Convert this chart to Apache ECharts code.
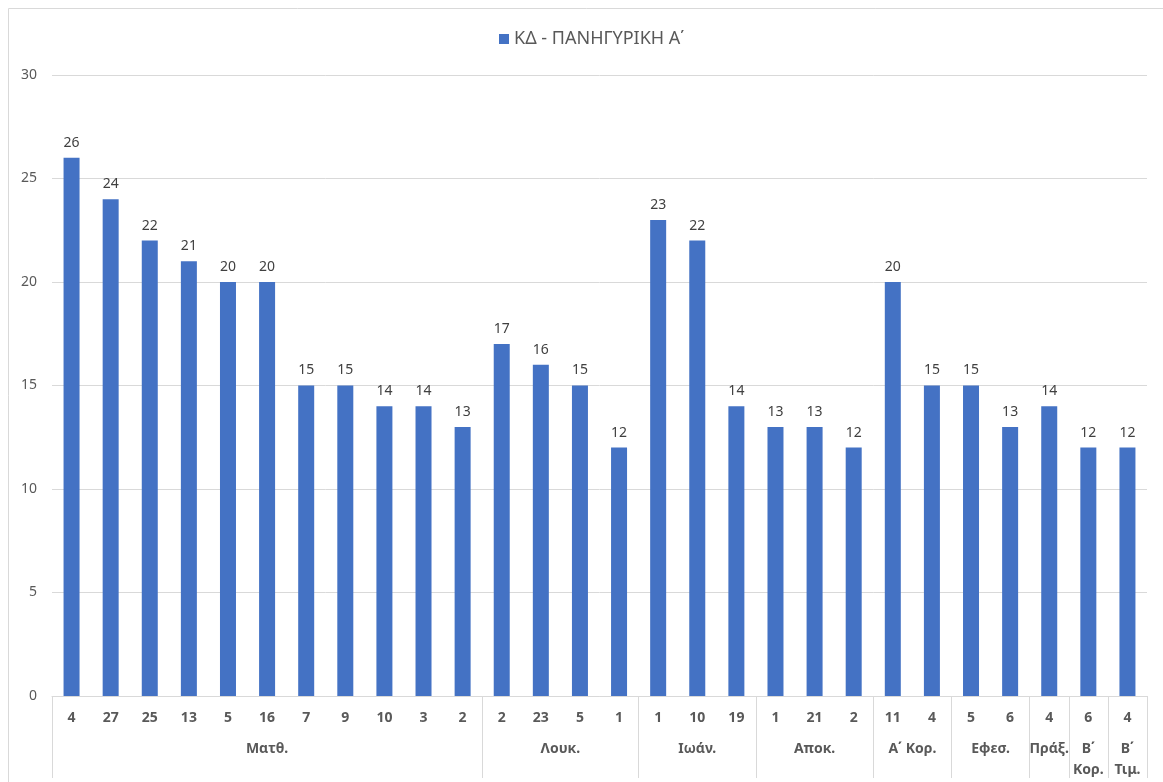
<!DOCTYPE html>
<html>
<head>
<meta charset="utf-8">
<script src="https://cdn.jsdelivr.net/npm/echarts@6/dist/echarts.min.js"></script>
<style>
html,body{margin:0;padding:0;background:#fff;}
#c{width:1163px;height:782px;}
</style>
</head>
<body>
<div id="c"></div>
<script>
const seriesName = 'ΚΔ - ΠΑΝΗΓΥΡΙΚΗ Α΄';
const chapters = ['4','27','25','13','5','16','7','9','10','3','2','2','23','5','1','1','10','19','1','21','2','11','4','5','6','4','6','4'];
const values = [26,24,22,21,20,20,15,15,14,14,13,17,16,15,12,23,22,14,13,13,12,20,15,15,13,14,12,12];
const groupNames = ['Ματθ.','Λουκ.','Ιωάν.','Αποκ.','Α΄ Κορ.','Εφεσ.','Πράξ.','Β΄\nΚορ.','Β΄\nΤιμ.'];
const groupSizes = [11,4,3,3,2,2,1,1,1];
const yTicks = [0,5,10,15,20,25,30];

// group boundaries and centres (in category units)
const bounds = [0];
groupSizes.forEach(s => bounds.push(bounds[bounds.length-1] + s));
const centres = groupSizes.map((s,i) => bounds[i] + s/2);
const centreName = {};
centres.forEach((c,i) => { centreName[String(c)] = groupNames[i]; });

const FONT = 'Noto Sans';
const chart = echarts.init(document.getElementById('c'));
chart.setOption({
  animation: false,
  textStyle: {fontFamily: FONT},
  graphic: [{
    type: 'rect', silent: true,
    shape: {x: 8.5, y: 8.5, width: 1170, height: 790},
    style: {fill: 'none', stroke: '#D9D9D9', lineWidth: 1}
  }],
  legend: {
    top: 25, left: 494,
    itemWidth: 10, itemHeight: 10, itemGap: 8,
    icon: 'rect',
    textStyle: {color: '#595959', fontSize: 18, fontFamily: FONT},
    data: [seriesName]
  },
  grid: {left: 52, right: 16, top: 75, bottom: 86, containLabel: false},
  xAxis: [{
    type: 'category',
    data: chapters,
    position: 'bottom',
    axisLine: {show: true, lineStyle: {color: '#D9D9D9', width: 1}},
    axisTick: {show: false},
    axisLabel: {interval: 0, color: '#595959', fontWeight: 'bold', fontSize: 14, margin: 15, fontFamily: FONT},
    splitLine: {show: false}
  }, {
    type: 'value',
    min: 0, max: bounds[bounds.length-1],
    position: 'bottom',
    offset: 0,
    axisLine: {show: false},
    splitLine: {show: false},
    axisTick: {show: true, customValues: bounds, length: 82, inside: false, lineStyle: {color: '#D9D9D9', width: 1}},
    axisLabel: {
      customValues: centres,
      showMinLabel: true, showMaxLabel: true,
      hideOverlap: false,
      formatter: v => centreName[String(v)] || '',
      color: '#595959', fontWeight: 'bold', fontSize: 14, margin: 43,
      lineHeight: 21, verticalAlign: 'top', fontFamily: FONT
    }
  }],
  yAxis: {
    type: 'value',
    min: yTicks[0], max: yTicks[yTicks.length-1], interval: 5,
    axisLine: {show: false},
    axisTick: {show: false},
    axisLabel: {color: '#595959', fontSize: 14, margin: 15, fontFamily: FONT},
    splitLine: {lineStyle: {color: '#D9D9D9', width: 1}}
  },
  series: [{
    name: seriesName,
    type: 'bar',
    xAxisIndex: 0,
    data: values,
    barWidth: 16,
    itemStyle: {color: '#4472C4'},
    label: {show: true, position: 'top', distance: 8, color: '#404040', fontSize: 14, fontFamily: FONT}
  }]
});
</script>
</body>
</html>
